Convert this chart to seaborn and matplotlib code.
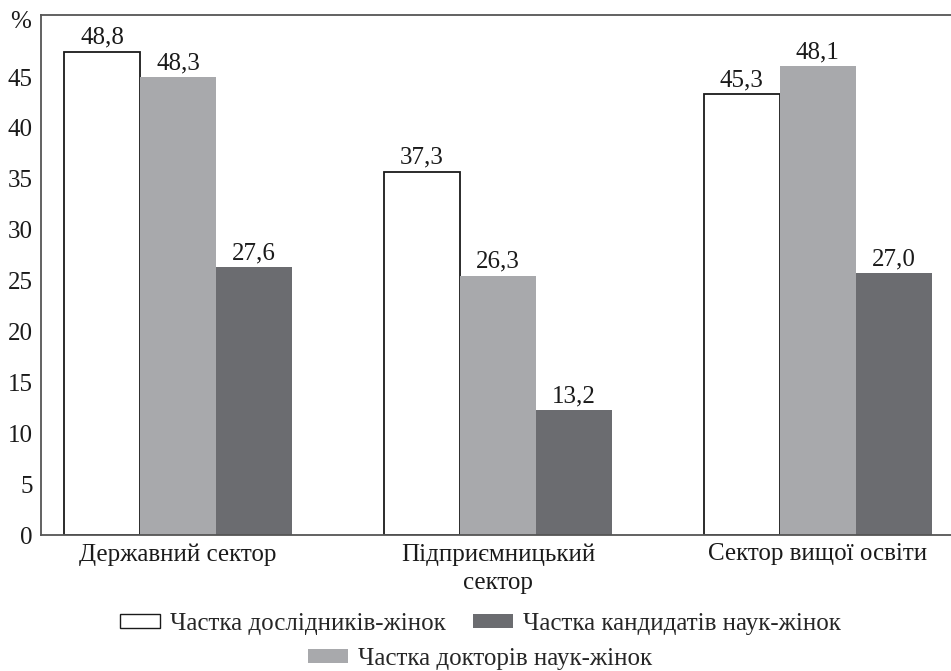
import matplotlib
matplotlib.use("Agg")
import matplotlib.pyplot as plt
import seaborn as sns
import pandas as pd

sectors = ["Державний сектор", "Підприємницький\nсектор", "Сектор вищої освіти"]
series = ["Частка дослідників-жінок", "Частка докторів наук-жінок", "Частка кандидатів наук-жінок"]

# bar heights as drawn in the picture (they do not quite follow the printed numbers)
researchers = [47.5, 35.7, 43.3]
doctors = [45.0, 25.5, 46.1]
candidates = [26.3, 12.3, 25.7]

# numbers printed above the bars
researchers_lbl = ["48,8", "37,3", "45,3"]
doctors_lbl = ["48,3", "26,3", "48,1"]
candidates_lbl = ["27,6", "13,2", "27,0"]

y_ticks = [0, 5, 10, 15, 20, 25, 30, 35, 40, 45]

colors = {series[0]: "#ffffff", series[1]: "#a8a9ac", series[2]: "#6b6c70"}

rows = []
for name, vals in zip(series, [researchers, doctors, candidates]):
    for sec, v in zip(sectors, vals):
        rows.append({"sector": sec, "series": name, "value": v})
df = pd.DataFrame(rows)

sns.set_style("white")
plt.rcParams["font.family"] = ["Liberation Serif", "DejaVu Serif"]
plt.rcParams["font.size"] = 18

fig = plt.figure(figsize=(9.51, 6.71), dpi=100)
ax = fig.add_axes([41 / 951, 1 - 535 / 671, 1 - 41 / 951, (535 - 15) / 671])

sns.barplot(data=df, x="sector", y="value", hue="series", order=sectors,
            hue_order=series, palette=colors, width=0.7125, gap=0,
            saturation=1, ax=ax, legend=False)

# only the white bars get an outline
for bar in ax.containers[0]:
    bar.set_edgecolor("#1a1a1a")
    bar.set_linewidth(1.3)
for cont in ax.containers[1:]:
    for bar in cont:
        bar.set_edgecolor("none")

for cont, lbls in zip(ax.containers, [researchers_lbl, doctors_lbl, candidates_lbl]):
    ax.bar_label(cont, labels=lbls, padding=2, fontsize=18, color="#1a1a1a")

ax.set_xlim(-0.428, 2.416)
ax.set_ylim(0, 51.1)
ax.set_yticks(y_ticks)
ax.set_xlabel("")
ax.set_ylabel("")
ax.tick_params(axis="y", direction="in", length=6, width=1, color="#555555",
               labelsize=18, labelcolor="#1a1a1a", pad=6)
ax.tick_params(axis="x", length=0, labelsize=18, labelcolor="#1a1a1a", pad=6)
for lbl in ax.get_xticklabels():
    lbl.set_linespacing(1.35)

for side in ["left", "top", "bottom"]:
    ax.spines[side].set_color("#555555")
    ax.spines[side].set_linewidth(1.3)
ax.spines["right"].set_visible(False)

ax.text(-0.022, 0.986, "%", transform=ax.transAxes, ha="center", va="center",
        fontsize=18, color="#1a1a1a")

h = ax.containers
leg1 = fig.legend([h[0][0], h[2][0]], [series[0], series[2]], ncol=2,
                  loc="center", bbox_to_anchor=(0.505, 1 - 624 / 671),
                  frameon=False, handlelength=1.6, handleheight=0.5,
                  columnspacing=1.1, handletextpad=0.4, fontsize=18)
leg2 = fig.legend([h[1][0]], [series[1]], loc="center",
                  bbox_to_anchor=(0.505, 1 - 659 / 671),
                  frameon=False, handlelength=1.6, handleheight=0.5,
                  handletextpad=0.4, fontsize=18)
for lh in leg1.legend_handles:
    lh.set_linewidth(1.0)

fig.savefig("out.png", dpi=100)
